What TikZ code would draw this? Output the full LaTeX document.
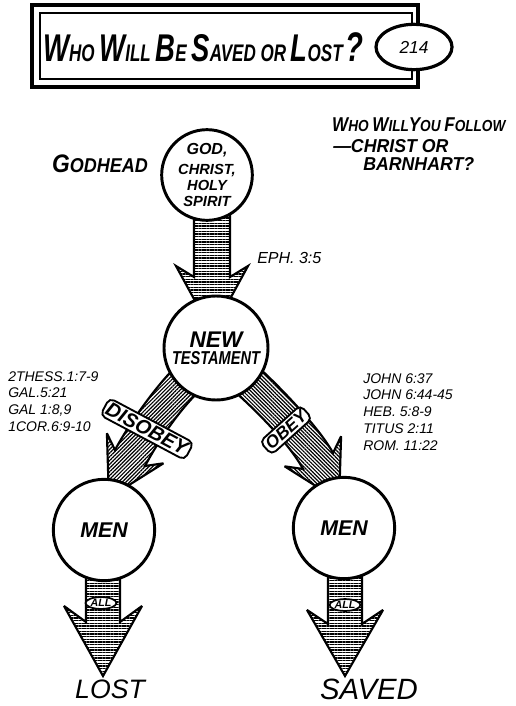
\documentclass[tikz,border=0pt]{standalone}
\usepackage{graphicx}
\usepackage{fontspec}
\setmainfont{Liberation Sans}
\usetikzlibrary{calc,patterns.meta,shapes.geometric}

\newcommand\fsz[1]{\fontsize{#1}{1.15\dimexpr#1pt\relax}\selectfont}
\newcommand\capini[2]{{\fsz{#1}#2}}

% block arrow: start, start angle, head base, head angle,
% half width, head half width, barb, head length, fill style
\newcommand\blockarrow[9]{%
  \path[arrowbody,#9]
    ($(#1)+(#2-90:#5)$)
    .. controls ($(#1)+(#2-90:#5)+(#2:30)$) and ($(#3)+(#4-90:#5)-(#4:30)$) ..
    ($(#3)+(#4-90:#5)$)
    -- ($(#3)+(#4-90:#6)-(#4:#7)$)
    -- ($(#3)+(#4:#8)$)
    -- ($(#3)+(#4+90:#6)-(#4:#7)$)
    -- ($(#3)+(#4+90:#5)$)
    .. controls ($(#3)+(#4+90:#5)-(#4:30)$) and ($(#1)+(#2+90:#5)+(#2:30)$) ..
    ($(#1)+(#2+90:#5)$) -- cycle;}

\begin{document}
\begin{tikzpicture}[x=0.75pt,y=-0.75pt,
  bubble/.style={circle, draw, line width=2.2pt, fill=white, inner sep=0pt,
    align=center, font=\bfseries\itshape},
  arrowbody/.style={draw, line width=1.6pt, line join=miter, miter limit=4},
  hatchH/.style={pattern={Lines[angle=0,distance=2pt,line width=1pt]}},
  hatchL/.style={pattern={Lines[angle=45,distance=2pt,line width=0.9pt]}},
  hatchR/.style={pattern={Lines[angle=-45,distance=2pt,line width=0.9pt]}},
  sticker/.style={draw, line width=1.4pt, fill=white, rounded corners=4pt,
    inner sep=2pt, font=\bfseries\itshape},
  alltag/.style={ellipse, draw, line width=1.3pt, fill=white, inner sep=0.4pt,
    font=\bfseries\itshape\fsz{8}},
  refs/.style={anchor=north west, inner sep=0pt, align=left,
    font=\itshape\fontsize{10.5}{12.7}\selectfont},
  hand/.style={inner sep=0pt, font=\bfseries\itshape},
]
\useasboundingbox (0,0) rectangle (515,706);

% title frame
\draw[line width=2.4pt] (32,5) rectangle (418,87);
\draw[line width=1.2pt] (40,13) rectangle (412,79);
\node[hand, anchor=base west, xscale=0.71, font=\bfseries\itshape\fsz{18}] (title) at (43,62)
  {\capini{29}{W}HO \capini{29}{W}ILL \capini{29}{B}E \capini{29}{S}AVED OR \capini{29}{L}OST\,\capini{31}{?}};
\node[ellipse, draw, line width=2.4pt, fill=white, minimum width=57pt, minimum height=34pt,
  font=\itshape\fsz{13}] (num) at (414,47) {214};

% side texts
\node[hand, anchor=base, xscale=0.9, font=\bfseries\itshape\fsz{15}] (gh) at (100,172) {\capini{19}{G}ODHEAD};
\node[hand, anchor=base west, xscale=0.85, font=\bfseries\itshape\fsz{12}] (q1) at (332,132)
  {\capini{15}{W}HO \capini{15}{W}ILL\capini{15}{Y}OU \capini{15}{F}OLLOW};
\node[hand, anchor=base west, xscale=0.95, font=\bfseries\itshape\fsz{14}] (q2) at (333,152) {---CHRIST OR};
\node[hand, anchor=base west, xscale=0.95, font=\bfseries\itshape\fsz{14}] (q3) at (363,171) {BARNHART?};
\node[inner sep=0pt, anchor=base west, font=\itshape\fsz{12}] (eph) at (257,263) {EPH. 3:5};
\node[refs] (lrefs) at (8,371) {2THESS.1:7-9\\GAL.5:21\\GAL 1:8,9\\1COR.6:9-10};
\node[refs] (rrefs) at (363,373) {JOHN 6:37\\JOHN 6:44-45\\HEB. 5:8-9\\TITUS 2:11\\ROM. 11:22};

% block arrows
\coordinate (t0) at (212,215); \coordinate (t1) at (212,277);
\coordinate (l0) at (195,372); \coordinate (l1) at (130,458);
\coordinate (r0) at (238,372); \coordinate (r1) at (318,461);
\coordinate (a0) at (103,560); \coordinate (a1) at (103,622);
\coordinate (b0) at (345,560); \coordinate (b1) at (345,624);
\blockarrow{t0}{90}{t1}{90}{18}{36}{11}{55}{hatchH}
\blockarrow{l0}{140}{l1}{118}{17}{32}{11}{45}{hatchL}
\blockarrow{r0}{40}{r1}{62}{17}{32}{11}{45}{hatchR}
\blockarrow{a0}{90}{a1}{90}{17}{39}{16}{54}{hatchH}
\blockarrow{b0}{90}{b1}{90}{17}{38}{14}{52}{hatchH}

% circles
\node[bubble, minimum size=68pt, font=\bfseries\itshape\fontsize{11}{12}\selectfont] (G) at (207,175)
  {\fsz{12}GOD,\\[3pt]CHRIST,\\HOLY\\SPIRIT};
\node[bubble, minimum size=78pt] (NT) at (216,348)
  {\fsz{17}NEW\\[1pt]\scalebox{0.78}[1]{\fsz{14}TESTAMENT}};
\node[bubble, minimum size=76pt, font=\bfseries\itshape\fsz{16}] (ML) at (104,530) {MEN};
\node[bubble, minimum size=76pt, font=\bfseries\itshape\fsz{16}] (MR) at (344,528) {MEN};

% labels on the arrows
\node[sticker, rotate=-28, font=\bfseries\itshape\fsz{15}] (dis) at (147,429) {DISOBEY};
\node[sticker, rotate=42, font=\bfseries\itshape\fsz{13}] (obey) at (286,430) {OBEY};
\node[alltag] (allL) at (101,603) {ALL};
\node[alltag] (allR) at (345,605) {ALL};

% outcomes
\node[inner sep=0pt, anchor=base, font=\itshape\fsz{20}] (lost) at (110,698) {LOST};
\node[inner sep=0pt, anchor=base, font=\itshape\fsz{22}] (saved) at (369,699) {SAVED};
\end{tikzpicture}
\end{document}
